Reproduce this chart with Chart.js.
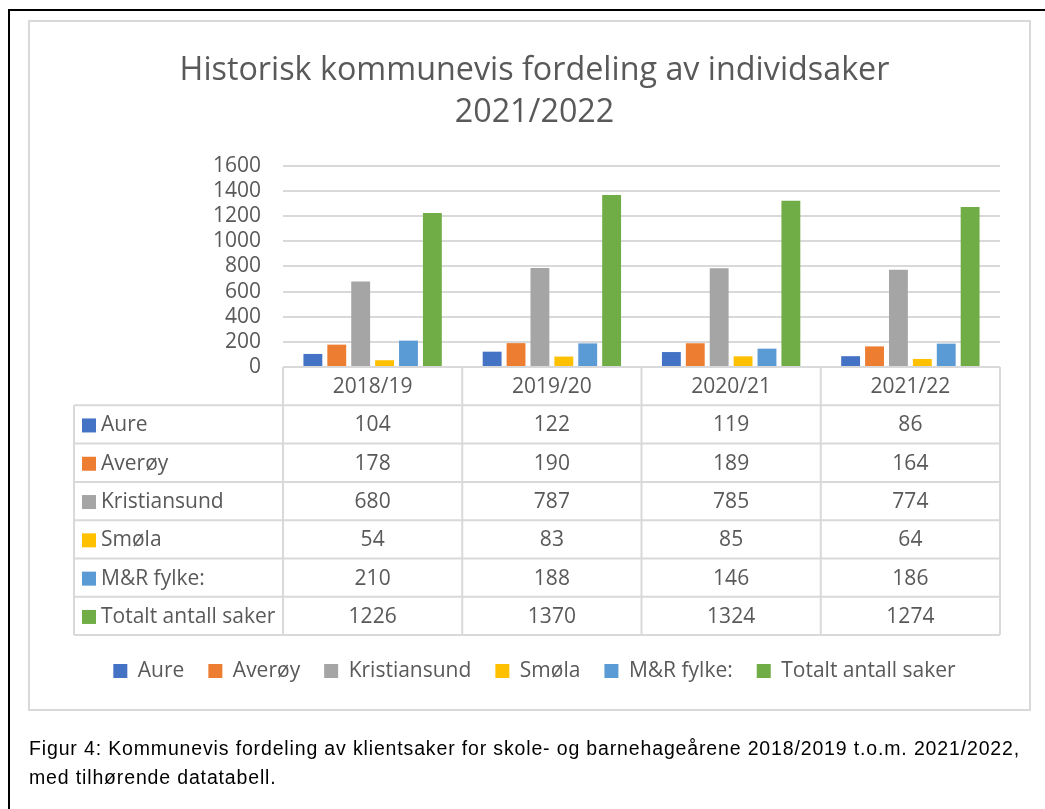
<!DOCTYPE html>
<html>
<head>
<meta charset="utf-8">
<script src="https://cdn.jsdelivr.net/npm/chart.js@4.4.1/dist/chart.umd.min.js"></script>
<style>
  html, body { margin: 0; padding: 0; background: #fff; }
  body { width: 1045px; height: 809px; position: relative; overflow: hidden; }
  #outer { position: absolute; left: 8px; top: 9px; width: 1100px; height: 900px;
           border-left: 2px solid #000; border-top: 2px solid #000; }
  #frame { position: absolute; left: 28px; top: 20px; width: 999px; height: 687px;
           border: 2px solid #d9d9d9; }
  #wrap { position: absolute; left: 0; top: 0; width: 1045px; height: 809px; }
  #caption { position: absolute; left: 29px; top: 734px; width: 1014px; white-space: nowrap;
             font-family: "Liberation Sans", Arial, sans-serif; font-size: 19.5px;
             letter-spacing: 0.85px; line-height: 29px; color: #000; }
</style>
</head>
<body>
<div id="outer"></div>
<div id="frame"></div>
<div id="wrap"><canvas id="chart" width="1045" height="809"></canvas></div>
<div id="caption">Figur 4: Kommunevis fordeling av klientsaker for skole- og barnehageårene 2018/2019 t.o.m. 2021/2022,<br>med tilhørende datatabell.</div>
<script>
const years = ['2018/19', '2019/20', '2020/21', '2021/22'];
const aure = [104, 122, 119, 86];
const averoy = [178, 190, 189, 164];
const kristiansund = [680, 787, 785, 774];
const smola = [54, 83, 85, 64];
const mrFylke = [210, 188, 146, 186];
const totalt = [1226, 1370, 1324, 1274];
const yTicks = [0, 200, 400, 600, 800, 1000, 1200, 1400, 1600];

const FONT = '"Open Sans", sans-serif';
const TEXT = '#595959';
const LINE = '#d9d9d9';

const series = [
  { label: 'Aure', data: aure, color: '#4472C4' },
  { label: 'Averøy', data: averoy, color: '#ED7D31' },
  { label: 'Kristiansund', data: kristiansund, color: '#A5A5A5' },
  { label: 'Smøla', data: smola, color: '#FFC000' },
  { label: 'M&R fylke:', data: mrFylke, color: '#5B9BD5' },
  { label: 'Totalt antall saker', data: totalt, color: '#70AD47' }
];

// data table under the plot, laid out on the x scale
const dataTable = {
  id: 'dataTable',
  afterDraw(chart) {
    const { ctx } = chart;
    const x = chart.scales.x;
    const top = x.top;
    const rowH = 38.3;
    const colW = (x.right - x.left) / years.length;
    const tableLeft = x.left - 209;
    const bottom = top + rowH * (series.length + 1);
    ctx.save();
    ctx.strokeStyle = LINE;
    ctx.lineWidth = 2;
    ctx.beginPath();
    ctx.moveTo(x.left, top); ctx.lineTo(x.right, top);
    for (let r = 1; r <= series.length + 1; r++) {
      const yy = top + r * rowH;
      ctx.moveTo(tableLeft, yy); ctx.lineTo(x.right, yy);
    }
    for (let c = 0; c <= years.length; c++) {
      const xx = x.left + c * colW;
      ctx.moveTo(xx, top); ctx.lineTo(xx, bottom);
    }
    ctx.moveTo(tableLeft, top + rowH); ctx.lineTo(tableLeft, bottom);
    ctx.stroke();

    ctx.fillStyle = TEXT;
    ctx.font = '21px ' + FONT;
    ctx.textBaseline = 'middle';
    ctx.textAlign = 'center';
    years.forEach((yr, c) => {
      ctx.fillText(yr, x.getPixelForValue(c), top + rowH / 2 + 1);
    });
    series.forEach((s, r) => {
      const cy = top + (r + 1.5) * rowH + 1;
      ctx.fillStyle = s.color;
      ctx.fillRect(tableLeft + 8, cy - 7, 14, 14);
      ctx.fillStyle = TEXT;
      ctx.textAlign = 'left';
      ctx.fillText(s.label, tableLeft + 27, cy);
      ctx.textAlign = 'center';
      s.data.forEach((v, c) => ctx.fillText(String(v), x.getPixelForValue(c), cy));
    });
    ctx.restore();
  }
};

new Chart(document.getElementById('chart'), {
  type: 'bar',
  data: {
    labels: years,
    datasets: series.map(s => ({
      label: s.label,
      data: s.data,
      backgroundColor: s.color,
      categoryPercentage: 0.8,
      barPercentage: 0.79
    }))
  },
  options: {
    responsive: false,
    animation: false,
    layout: { padding: { left: 34, right: 10, top: 0, bottom: 117.5 } },
    plugins: {
      title: {
        display: true,
        text: ['Historisk kommunevis fordeling av individsaker', '2021/2022'],
        color: TEXT,
        font: { family: FONT, size: 32.3, weight: 'normal', lineHeight: 1.3 },
        padding: { top: 50, bottom: 32 }
      },
      legend: {
        position: 'bottom',
        labels: {
          color: TEXT,
          font: { family: FONT, size: 21 },
          boxWidth: 14,
          boxHeight: 14,
          padding: 24
        }
      },
      tooltip: { enabled: false }
    },
    scales: {
      x: {
        grid: { display: false },
        border: { display: false },
        ticks: { display: false },
        afterFit(scale) { scale.height = 269.5; }
      },
      y: {
        min: 0,
        max: 1600,
        afterBuildTicks(scale) { scale.ticks = yTicks.map(v => ({ value: v })); },
        grid: { color: LINE, lineWidth: 2, drawTicks: false },
        border: { display: false },
        ticks: {
          color: TEXT, font: { family: FONT, size: 21 }, padding: 22, autoSkip: false,
          callback: v => String(v)
        },
        afterFit(scale) { scale.width = 249; }
      },
      // empty right-hand axis keeps the plot clear of the frame
      yRight: {
        position: 'right',
        display: true,
        grid: { display: false },
        border: { display: false },
        ticks: { display: false },
        afterFit(scale) { scale.width = 35; }
      }
    }
  },
  plugins: [dataTable]
});
</script>
</body>
</html>
